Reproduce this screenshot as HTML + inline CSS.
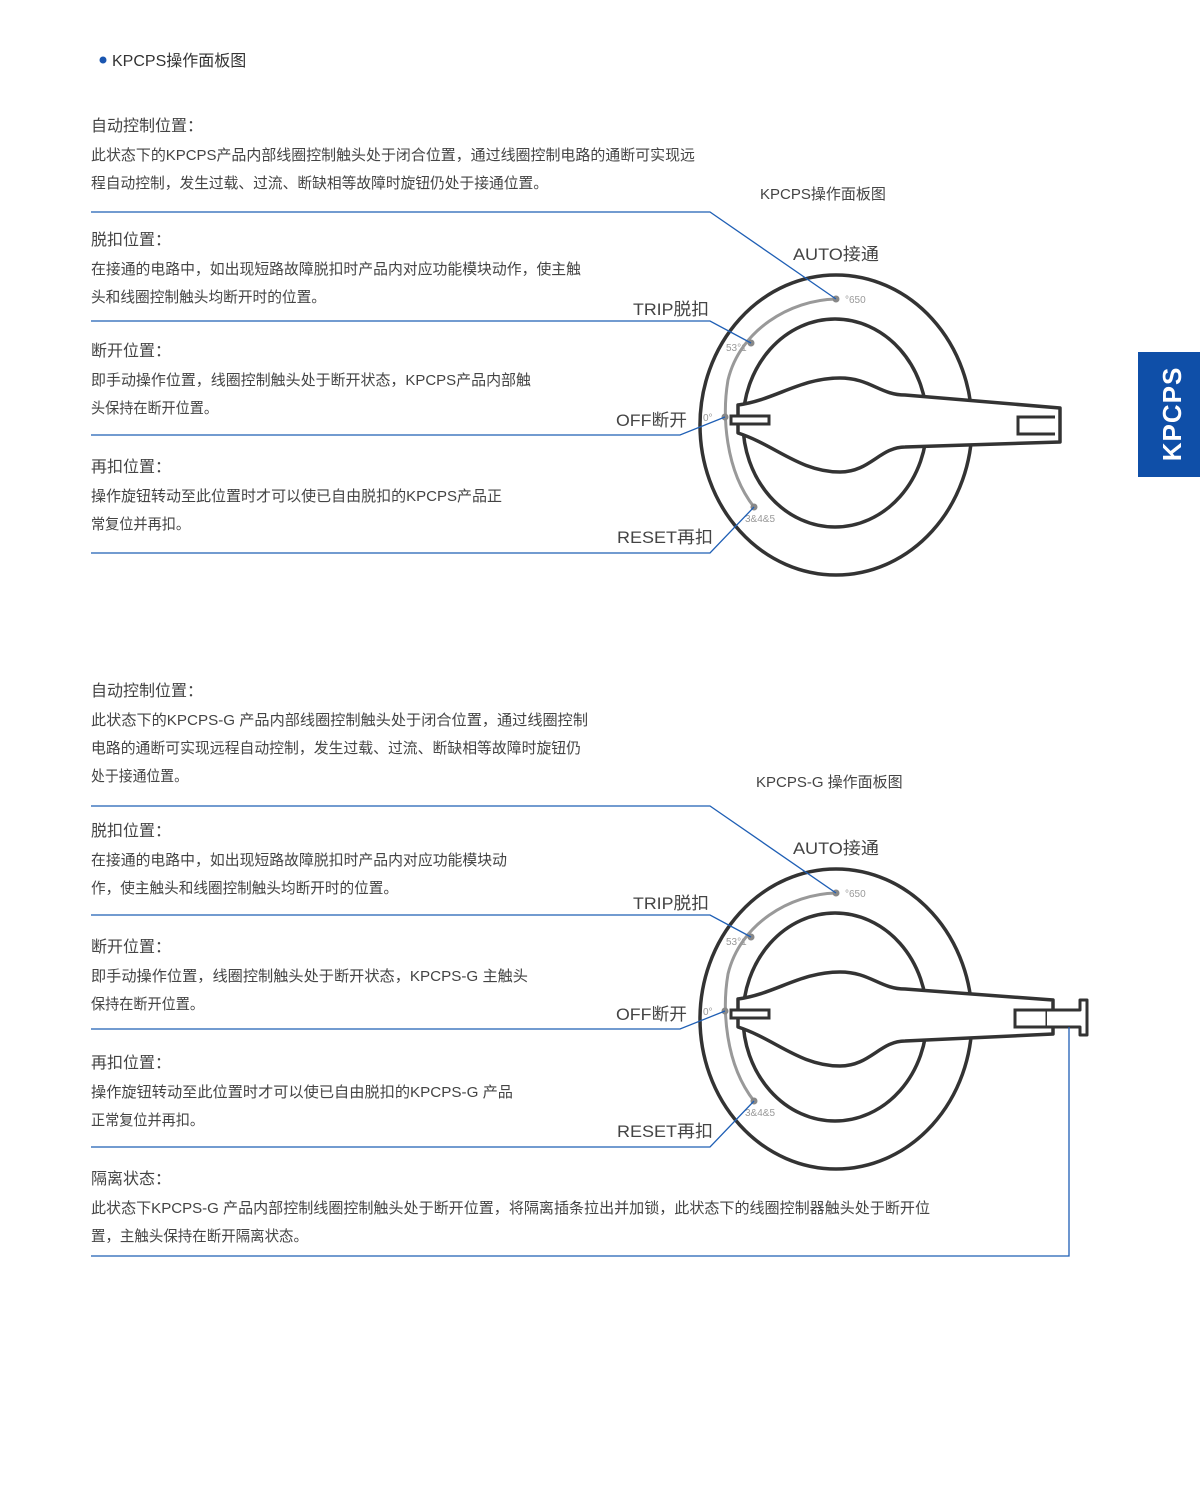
<!DOCTYPE html>
<html><head><meta charset="utf-8"><style>
html,body{margin:0;padding:0;background:#fff;}
svg{display:block;}
text{font-family:"Liberation Sans","Noto Sans CJK SC",sans-serif;}
</style></head><body>
<svg width="1200" height="1489" viewBox="0 0 1200 1489" xmlns="http://www.w3.org/2000/svg">
<circle cx="103" cy="60" r="3.5" fill="#1a56b0"/>
<text x="112" y="66" font-size="16" fill="#333">KPCPS操作面板图</text>
<rect x="1138" y="352" width="62" height="125" fill="#0f4fa8"/>
<text transform="translate(1172,414) rotate(-90)" text-anchor="middle" dominant-baseline="central" font-size="26" font-weight="bold" fill="#fff" letter-spacing="1">KPCPS</text>

<g font-size="15" fill="#444" lengthAdjust="spacingAndGlyphs">
<text x="91" y="131" font-size="16">自动控制位置：</text>
<text x="91" y="160" textLength="604" lengthAdjust="spacingAndGlyphs">此状态下的KPCPS产品内部线圈控制触头处于闭合位置，通过线圈控制电路的通断可实现远</text>
<text x="91" y="188" textLength="457" lengthAdjust="spacingAndGlyphs">程自动控制，发生过载、过流、断缺相等故障时旋钮仍处于接通位置。</text>
<text x="91" y="245" font-size="16">脱扣位置：</text>
<text x="91" y="274" textLength="490" lengthAdjust="spacingAndGlyphs">在接通的电路中，如出现短路故障脱扣时产品内对应功能模块动作，使主触</text>
<text x="91" y="302" textLength="235" lengthAdjust="spacingAndGlyphs">头和线圈控制触头均断开时的位置。</text>
<text x="91" y="356" font-size="16">断开位置：</text>
<text x="91" y="385" textLength="440" lengthAdjust="spacingAndGlyphs">即手动操作位置，线圈控制触头处于断开状态，KPCPS产品内部触</text>
<text x="91" y="413" textLength="127" lengthAdjust="spacingAndGlyphs">头保持在断开位置。</text>
<text x="91" y="472" font-size="16">再扣位置：</text>
<text x="91" y="501" textLength="411" lengthAdjust="spacingAndGlyphs">操作旋钮转动至此位置时才可以使已自由脱扣的KPCPS产品正</text>
<text x="91" y="529" textLength="99" lengthAdjust="spacingAndGlyphs">常复位并再扣。</text>
<text x="760" y="199" font-size="15">KPCPS操作面板图</text>

<text x="91" y="696" font-size="16">自动控制位置：</text>
<text x="91" y="725" textLength="497" lengthAdjust="spacingAndGlyphs">此状态下的KPCPS-G 产品内部线圈控制触头处于闭合位置，通过线圈控制</text>
<text x="91" y="753" textLength="490" lengthAdjust="spacingAndGlyphs">电路的通断可实现远程自动控制，发生过载、过流、断缺相等故障时旋钮仍</text>
<text x="91" y="781" textLength="97" lengthAdjust="spacingAndGlyphs">处于接通位置。</text>
<text x="91" y="836" font-size="16">脱扣位置：</text>
<text x="91" y="865" textLength="416" lengthAdjust="spacingAndGlyphs">在接通的电路中，如出现短路故障脱扣时产品内对应功能模块动</text>
<text x="91" y="893" textLength="307" lengthAdjust="spacingAndGlyphs">作，使主触头和线圈控制触头均断开时的位置。</text>
<text x="91" y="952" font-size="16">断开位置：</text>
<text x="91" y="981" textLength="437" lengthAdjust="spacingAndGlyphs">即手动操作位置，线圈控制触头处于断开状态，KPCPS-G 主触头</text>
<text x="91" y="1009" textLength="113" lengthAdjust="spacingAndGlyphs">保持在断开位置。</text>
<text x="91" y="1068" font-size="16">再扣位置：</text>
<text x="91" y="1097" textLength="422" lengthAdjust="spacingAndGlyphs">操作旋钮转动至此位置时才可以使已自由脱扣的KPCPS-G 产品</text>
<text x="91" y="1125" textLength="113" lengthAdjust="spacingAndGlyphs">正常复位并再扣。</text>
<text x="91" y="1184" font-size="16">隔离状态：</text>
<text x="91" y="1213" textLength="839" lengthAdjust="spacingAndGlyphs">此状态下KPCPS-G 产品内部控制线圈控制触头处于断开位置，将隔离插条拉出并加锁，此状态下的线圈控制器触头处于断开位</text>
<text x="91" y="1241" textLength="217" lengthAdjust="spacingAndGlyphs">置，主触头保持在断开隔离状态。</text>
<text x="756" y="787" font-size="15">KPCPS-G 操作面板图</text>
</g>

<defs>
<g id="dial">
  <ellipse cx="836" cy="425" rx="136" ry="150" fill="none" stroke="#333" stroke-width="3.5"/>
  <ellipse cx="835" cy="423" rx="92" ry="104" fill="none" stroke="#333" stroke-width="3.5"/>
  <path d="M836,299 C790,300 740,330 728,380 C722,415 725,470 754,507" fill="none" stroke="#999" stroke-width="3"/>
  <circle cx="836" cy="299" r="3.5" fill="#888"/>
  <circle cx="751" cy="343" r="3.5" fill="#888"/>
  <circle cx="725" cy="417" r="3.5" fill="#888"/>
  <circle cx="754" cy="507" r="3.5" fill="#888"/>
  <g font-size="10" fill="#999">
    <text x="845" y="303">°650</text>
    <text x="726" y="351">53°1</text>
    <text x="703" y="421">0°</text>
    <text x="745" y="522">3&amp;4&amp;5</text>
  </g>
  <g font-size="17" fill="#444">
    <text x="793" y="260" textLength="86" lengthAdjust="spacingAndGlyphs">AUTO接通</text>
    <text x="633" y="315" textLength="76" lengthAdjust="spacingAndGlyphs">TRIP脱扣</text>
    <text x="616" y="426" textLength="71" lengthAdjust="spacingAndGlyphs">OFF断开</text>
    <text x="617" y="543" textLength="96" lengthAdjust="spacingAndGlyphs">RESET再扣</text>
  </g>
</g>
</defs>

<use href="#dial"/>
<path d="M738,405 C775,400 800,378 840,378 C870,378 880,395 905,395 L1060,408 L1060,442 L905,447 C880,447 870,472 840,472 C800,472 775,445 738,433 Z" fill="#fff" stroke="#333" stroke-width="3.5" stroke-linejoin="round"/>
<rect x="731" y="416" width="38" height="8" fill="#fff" stroke="#333" stroke-width="3"/>
<path d="M1055,417 L1018,417 L1018,434 L1055,434" fill="none" stroke="#333" stroke-width="3"/>

<g transform="translate(0,594)">
<use href="#dial"/>
<path d="M738,405 C775,400 800,378 840,378 C870,378 880,395 905,395 L1053,406 L1053,440 L905,447 C880,447 870,472 840,472 C800,472 775,445 738,433 Z" fill="#fff" stroke="#333" stroke-width="3.5" stroke-linejoin="round"/>
<rect x="731" y="416" width="38" height="8" fill="#fff" stroke="#333" stroke-width="3"/>
<rect x="1015" y="416" width="32" height="17" fill="#fff" stroke="#333" stroke-width="3"/>
<path d="M1047,416 L1080,416 L1080,406 L1087,406 L1087,441 L1080,441 L1080,433 L1047,433" fill="#fff" stroke="#333" stroke-width="3" stroke-linejoin="round"/>
</g>

<g fill="none" stroke="#1f5fb5" stroke-width="1.3">
<polyline points="91,212 710,212 836,299"/>
<polyline points="91,321 710,321 751,343"/>
<polyline points="91,435 680,435 725,417"/>
<polyline points="91,553 710,553 754,507"/>
<polyline points="91,806 710,806 836,893"/>
<polyline points="91,915 710,915 751,937"/>
<polyline points="91,1029 680,1029 725,1011"/>
<polyline points="91,1147 710,1147 754,1101"/>
<polyline points="91,1256 1069,1256 1069,1027"/>
</g>
</svg>
</body></html>
